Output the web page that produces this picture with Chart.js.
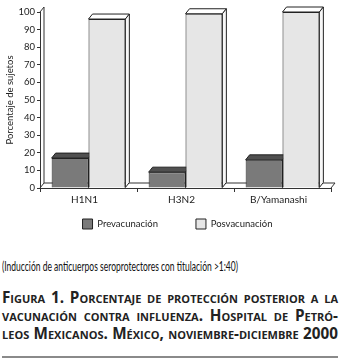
<!DOCTYPE html>
<html><head><meta charset="utf-8">
<script src="https://cdn.jsdelivr.net/npm/chart.js@4"></script>
<style>
html,body{margin:0;padding:0;background:#fff;}
#wrap{position:relative;width:342px;height:246px;}
#note{position:absolute;left:2px;top:258px;font-family:Lato,'Liberation Sans',sans-serif;font-size:13.5px;color:#111;white-space:nowrap;transform-origin:0 0;}
#cap{position:absolute;left:2px;top:288px;width:336px;font-family:'Open Sans',Lato,sans-serif;font-weight:bold;font-variant:small-caps;font-size:14px;line-height:18px;color:#222;}
#cap div{text-align:justify;text-align-last:justify;white-space:nowrap;}
#rule{position:absolute;left:2px;top:356px;width:336px;height:2px;background:#8a8a8a;}
</style></head>
<body>
<div id="wrap"><canvas id="c" width="342" height="246"></canvas></div>
<div id="note">(Inducción de anticuerpos seroprotectores con titulación &gt;1:40)</div>
<div id="cap">
<div>Figura 1. Porcentaje de protección posterior a la</div>
<div>vacunación contra influenza. Hospital de Petró-</div>
<div>leos Mexicanos. México, noviembre-diciembre 2000</div>
</div>
<div id="rule"></div>
<script>
const categories = ['H1N1', 'H3N2', 'B/Yamanashi'];
const prevacunacion = [17, 9, 16];
const posvacunacion = [96, 99, 100];
const seriesNames = ['Prevacunación', 'Posvacunación'];
const yAxisTitle = 'Porcentaje de sujetos';

// typographic fitting of the text lines below the chart
(function () {
  const n = document.getElementById('note');
  const w = n.getBoundingClientRect().width;
  n.style.transform = 'scaleX(' + (236 / w) + ')';
  const cap = document.getElementById('cap');
  const lines = Array.from(cap.children);
  let maxW = 0;
  lines.forEach(d => {
    const s = document.createElement('span');
    s.textContent = d.textContent;
    s.style.whiteSpace = 'nowrap';
    d.style.textAlignLast = 'left';
    d.textContent = '';
    d.appendChild(s);
    maxW = Math.max(maxW, s.getBoundingClientRect().width);
  });
  const fs = 14 * 332 / maxW;
  cap.style.fontSize = fs.toFixed(2) + 'px';
  lines.forEach(d => {
    const t = d.textContent;
    d.textContent = t;
    d.style.textAlignLast = 'justify';
  });
})();

const DX = 4, DY = -5;
const depth3d = {
  id: 'depth3d',
  afterInit(chart) {
    const lg = chart.legend;
    if (lg) {
      const f = lg.fit.bind(lg);
      lg.fit = function () { f(); this.height = 28; };
    }
  },
  afterLayout(chart) {
    const lg = chart.legend;
    if (lg) { lg.top -= 37; lg.bottom = chart.height; lg.height = lg.bottom - lg.top; lg.left += 12; lg.right += 12; }
  },
  beforeDatasetsDraw(chart) {
    const ctx = chart.ctx, ca = chart.chartArea, ys = chart.scales.y;
    const y0 = ys.getPixelForValue(0), yT = ys.getPixelForValue(100);
    ctx.save();
    ctx.lineWidth = 1;
    ctx.strokeStyle = '#333';
    ctx.beginPath();
    ctx.moveTo(ca.left + DX, y0 + DY);
    ctx.lineTo(ca.left + DX, yT + DY);
    ctx.lineTo(ca.left, yT);
    ctx.stroke();
    ctx.beginPath();
    ctx.moveTo(ca.left, y0);
    ctx.lineTo(ca.left + DX, y0 + DY);
    ctx.lineTo(ca.right + DX, y0 + DY);
    ctx.lineTo(ca.right, y0);
    ctx.stroke();
    const tops = ['#505050', '#ffffff'], sides = ['#5e5e5e', '#f7f7f7'];
    chart.data.datasets.forEach((ds, i) => {
      const meta = chart.getDatasetMeta(i);
      meta.data.forEach(bar => {
        const l = bar.x - bar.width / 2, r = bar.x + bar.width / 2, t = bar.y, b = bar.base;
        ctx.fillStyle = tops[i];
        ctx.beginPath();
        ctx.moveTo(l, t); ctx.lineTo(l + DX, t + DY); ctx.lineTo(r + DX, t + DY); ctx.lineTo(r, t); ctx.closePath();
        ctx.fill(); ctx.strokeStyle = '#222'; ctx.stroke();
        ctx.fillStyle = sides[i];
        ctx.beginPath();
        ctx.moveTo(r, t); ctx.lineTo(r + DX, t + DY); ctx.lineTo(r + DX, b + DY); ctx.lineTo(r, b); ctx.closePath();
        ctx.fill(); ctx.stroke();
      });
    });
    ctx.restore();
  }
};

new Chart(document.getElementById('c'), {
  type: 'bar',
  data: {
    labels: categories,
    datasets: [
      { label: seriesNames[0], data: prevacunacion, backgroundColor: '#7a7a7a', borderColor: '#222', borderWidth: 1 },
      { label: seriesNames[1], data: posvacunacion, backgroundColor: '#e6e6e6', borderColor: '#222', borderWidth: 1 }
    ]
  },
  options: {
    responsive: false,
    animation: false,
    layout: { padding: { top: 12, right: 11, left: 0, bottom: 0 } },
    categoryPercentage: 0.76,
    barPercentage: 1,
    plugins: {
      tooltip: { enabled: false },
      legend: {
        position: 'bottom',
        labels: { boxWidth: 10, boxHeight: 10, padding: 38, color: '#222', font: { family: 'Lato', size: 9.5 } }
      }
    },
    scales: {
      x: {
        afterFit(s) { s.height = 30; },
        grid: { offset: true, drawOnChartArea: false, drawTicks: true, tickLength: 4, color: '#333' },
        border: { display: true, color: '#333' },
        ticks: { color: '#222', padding: 2, labelOffset: -4, font: { family: 'Lato', size: 10 } }
      },
      y: {
        min: 0, max: 100,
        afterFit(s) { s.width = 40; },
        grid: { drawOnChartArea: false, drawTicks: true, tickLength: 3, color: '#333' },
        border: { display: true, color: '#333' },
        ticks: { stepSize: 10, color: '#222', padding: 2, font: { family: 'Lato', size: 9.5 } },
        title: { display: true, text: yAxisTitle, color: '#222', padding: { top: 4, bottom: 0 }, font: { family: 'Lato', size: 9.5 } }
      }
    }
  },
  plugins: [depth3d]
});
</script>
</body></html>
